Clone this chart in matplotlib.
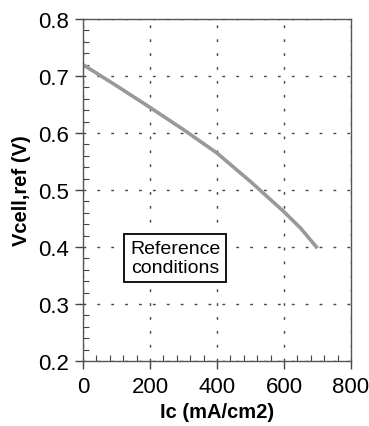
import matplotlib
matplotlib.use("Agg")
import matplotlib.pyplot as plt
from matplotlib.ticker import MultipleLocator

ic = [0, 100, 200, 300, 400, 500, 600, 650, 700]
vcell = [0.72, 0.683, 0.645, 0.606, 0.565, 0.515, 0.462, 0.433, 0.398]
xticks = [0, 200, 400, 600, 800]
yticks = [0.2, 0.3, 0.4, 0.5, 0.6, 0.7, 0.8]

plt.rcParams['font.family'] = ['Liberation Sans', 'DejaVu Sans']
fig = plt.figure(figsize=(3.69, 4.27), dpi=100)
ax = fig.add_axes([0.225, 0.152, 0.726, 0.801])
ax.plot(ic, vcell, color='#999999', lw=2.6, solid_capstyle='butt')
ax.set_xlim(0, 800)
ax.set_ylim(0.2, 0.8)
ax.set_xticks(xticks)
ax.set_yticks(yticks)
ax.set_xticklabels([str(t) for t in xticks])
ax.set_yticklabels([f"{t:.1f}" for t in yticks])
ax.xaxis.set_minor_locator(MultipleLocator(40))
ax.yaxis.set_minor_locator(MultipleLocator(0.02))
ax.tick_params(which='major', direction='out', length=6, width=1, labelsize=16, color='#444444')
ax.tick_params(which='minor', direction='in', length=4, width=0.8, color='#444444')
ax.tick_params(axis='x', which='major', pad=5)
ax.tick_params(axis='y', which='major', pad=4)
for s in ax.spines.values():
    s.set_color('#555555')
    s.set_linewidth(1)
ax.grid(True, which='major', linestyle=(0, (2, 8)), color='#444444', lw=1)
ax.set_xlabel('Ic (mA/cm2)', fontsize=14.5, fontweight='bold', labelpad=3)
ax.set_ylabel('Vcell,ref (V)', fontsize=14.5, fontweight='bold', labelpad=5)
ax.text(275, 0.381, 'Reference\nconditions', fontsize=14, ha='center', va='center',
        linespacing=1.2,
        bbox=dict(boxstyle='square,pad=0.3', fc='white', ec='black', lw=1.3))
fig.savefig('out.png', dpi=100)
